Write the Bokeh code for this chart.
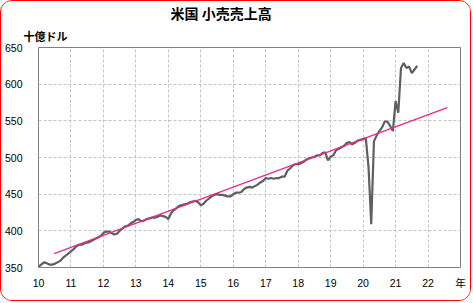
from bokeh.plotting import figure
from bokeh.models import Title, FixedTicker
from bokeh.embed import file_html
from bokeh.resources import INLINE

# Monthly US retail sales (billion USD), Jan 2010 .. Sep 2021
sales_2010 = [351, 354, 357, 356, 354, 354, 355, 357, 359, 363, 366, 369]
sales_2011 = [372, 375, 379, 381, 381, 383, 384, 385, 387, 389, 391, 393]
sales_2012 = [397, 399, 399, 397, 395, 396, 400, 403, 406, 407, 410, 412]
sales_2013 = [415, 416, 413, 414, 416, 417, 418, 418, 419, 421, 420, 419]
sales_2014 = [416, 424, 428, 431, 434, 435, 436, 437, 439, 440, 441, 439]
sales_2015 = [435, 437, 441, 444, 447, 449, 450, 449, 449, 448, 447, 447]
sales_2016 = [450, 452, 452, 453, 457, 459, 460, 459, 461, 463, 466, 468]
sales_2017 = [472, 471, 472, 471, 472, 472, 474, 474, 482, 485, 489, 491]
sales_2018 = [491, 492, 494, 497, 499, 500, 501, 503, 503, 506, 507, 496]
sales_2019 = [501, 503, 510, 512, 514, 516, 520, 521, 518, 520, 523, 524]
sales_2020 = [525, 526, 487, 409, 522, 530, 536, 541, 549, 549, 543, 536]
sales_2021 = [577, 561, 622, 629, 622, 624, 615, 620, 625]

start_year = 10  # 2010 shown as "10"

# Trend line end points (year, value)
trend_x = [10.48, 22.59]
trend_y = [369, 568]

x_ticks = list(range(10, 24))
y_ticks = [350, 400, 450, 500, 550, 600, 650]

title_text = "米国 小売売上高"
unit_text = "十億ドル"
year_text = "年"

sales = (sales_2010 + sales_2011 + sales_2012 + sales_2013 + sales_2014 + sales_2015 +
         sales_2016 + sales_2017 + sales_2018 + sales_2019 + sales_2020 + sales_2021)
months_x = [start_year + i / 12 for i in range(len(sales))]

p = figure(width=471, height=301, x_range=(10, 23), y_range=(350, 650),
           output_backend="svg", toolbar_location=None,
           min_border_left=34, min_border_right=12, min_border_top=45, min_border_bottom=35)
p.styles = {"border": "1px solid #ff0000", "border-radius": "12px", "overflow": "hidden"}
p.background_fill_color = "white"
p.border_fill_color = "white"
p.outline_line_color = "#808080"
p.outline_line_width = 1

for ax in (p.xaxis, p.yaxis):
    ax.axis_line_color = None
    ax.major_tick_line_color = None
    ax.minor_tick_line_color = None
    ax.major_tick_out = 0
    ax.major_tick_in = 0
    ax.major_label_text_font = "Liberation Sans, Noto Sans CJK JP"
    ax.major_label_text_font_size = "10.5px"
    ax.major_label_text_color = "#000000"

p.xaxis.ticker = FixedTicker(ticks=x_ticks)
p.xaxis.major_label_overrides = {23: year_text}
p.xaxis.major_label_standoff = 9
p.yaxis.ticker = FixedTicker(ticks=y_ticks)
p.yaxis.major_label_standoff = 16

p.xgrid.ticker = FixedTicker(ticks=x_ticks)
p.ygrid.ticker = FixedTicker(ticks=y_ticks)
for g in (p.xgrid, p.ygrid):
    g.grid_line_color = "#c4c4c4"
    g.grid_line_dash = "3 2"
    g.grid_line_width = 1

p.line(months_x, sales, line_color="#5f5f5f", line_width=2.2)
p.line(trend_x, trend_y, line_color="#e8288c", line_width=1.2)

p.add_layout(Title(text=unit_text, align="left", offset=-15, standoff=8,
                   text_font="Noto Sans CJK JP", text_font_size="11px",
                   text_font_style="bold", text_color="#000000"), "above")
p.add_layout(Title(text=title_text, align="left", offset=132, standoff=-2,
                   text_font="Noto Sans CJK JP", text_font_size="14px",
                   text_font_style="bold", text_color="#000000"), "above")

open("out.html", "w").write(file_html(p, INLINE))
